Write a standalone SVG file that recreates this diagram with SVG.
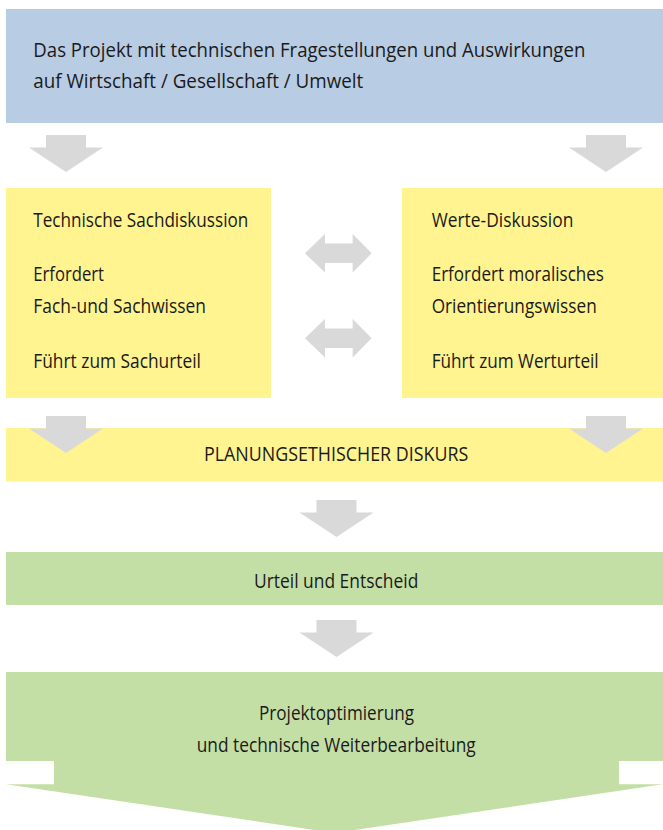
<svg xmlns="http://www.w3.org/2000/svg" xmlns:xlink="http://www.w3.org/1999/xlink" width="663" height="830" viewBox="0 0 663 830">
<style>
.t{font-family:"Open Sans","Noto Sans","Liberation Sans",sans-serif;font-size:20px;fill:#1a1a1a;}
.blue{fill:#b8cce4;}
.yellow{fill:#fff48f;}
.green{fill:#c4dfa6;}
.arr{fill:#d9d9d9;}
</style>
<defs>
<path id="down" d="M -20,0 H 20 V 12.5 H 37 L 0,37 L -37,12.5 H -20 Z"/>
<path id="both" d="M -33.35,0 L -13.35,-19.3 V -9.7 H 14.35 V -19.3 L 33.35,0 L 14.35,19.3 V 9.7 H -13.35 V 19.3 Z"/>
</defs>
<rect width="663" height="830" fill="#ffffff"/>
<g id="projekt">
<rect class="blue" x="6" y="9" width="657" height="114"/>
<text class="t" x="33.3" y="56.7" textLength="552" lengthAdjust="spacingAndGlyphs">Das Projekt mit technischen Fragestellungen und Auswirkungen</text>
<text class="t" x="33.3" y="88.3" textLength="330" lengthAdjust="spacingAndGlyphs">auf Wirtschaft / Gesellschaft / Umwelt</text>
</g>
<g id="sachdiskussion">
<rect class="yellow" x="6" y="188" width="265" height="210"/>
<text class="t" x="33.3" y="226.7" textLength="215" lengthAdjust="spacingAndGlyphs">Technische Sachdiskussion</text>
<text class="t" x="33.3" y="281" textLength="70.7" lengthAdjust="spacingAndGlyphs">Erfordert</text>
<text class="t" x="33.3" y="312.7" textLength="172.7" lengthAdjust="spacingAndGlyphs">Fach-und Sachwissen</text>
<text class="t" x="33.3" y="367.7" textLength="167.7" lengthAdjust="spacingAndGlyphs">Führt zum Sachurteil</text>
</g>
<g id="wertediskussion">
<rect class="yellow" x="402" y="188" width="261" height="210"/>
<text class="t" x="431.7" y="226.7" textLength="141.7" lengthAdjust="spacingAndGlyphs">Werte-Diskussion</text>
<text class="t" x="431.7" y="281" textLength="172.3" lengthAdjust="spacingAndGlyphs">Erfordert moralisches</text>
<text class="t" x="431.7" y="312.7" textLength="165" lengthAdjust="spacingAndGlyphs">Orientierungswissen</text>
<text class="t" x="431.7" y="367.7" textLength="167" lengthAdjust="spacingAndGlyphs">Führt zum Werturteil</text>
</g>
<g id="diskurs">
<rect class="yellow" x="6" y="428" width="657" height="53.5"/>
<text class="t" x="204" y="461" textLength="264.3" lengthAdjust="spacingAndGlyphs">PLANUNGSETHISCHER DISKURS</text>
</g>
<g id="urteil">
<rect class="green" x="6" y="552" width="657" height="53"/>
<text class="t" x="254" y="587.7" textLength="164.3" lengthAdjust="spacingAndGlyphs">Urteil und Entscheid</text>
</g>
<g id="optimierung">
<path class="green" d="M 6,672 H 663 V 761 H 619 V 784.3 H 663 L 334.5,833 L 6,784.3 H 54 V 761 H 6 Z"/>
<text class="t" x="259" y="720" textLength="155" lengthAdjust="spacingAndGlyphs">Projektoptimierung</text>
<text class="t" x="196.7" y="751.7" textLength="279" lengthAdjust="spacingAndGlyphs">und technische Weiterbearbeitung</text>
</g>
<g id="connectors" class="arr">
<use xlink:href="#down" href="#down" transform="translate(66,135)"/>
<use xlink:href="#down" href="#down" transform="translate(606,135)"/>
<use xlink:href="#both" href="#both" transform="translate(338.3,253.3)"/>
<use xlink:href="#both" href="#both" transform="translate(338.3,338.3)"/>
<use xlink:href="#down" href="#down" transform="translate(66,416)"/>
<use xlink:href="#down" href="#down" transform="translate(606,416)"/>
<use xlink:href="#down" href="#down" transform="translate(336.5,500)"/>
<use xlink:href="#down" href="#down" transform="translate(336.5,620)"/>
</g>
</svg>
